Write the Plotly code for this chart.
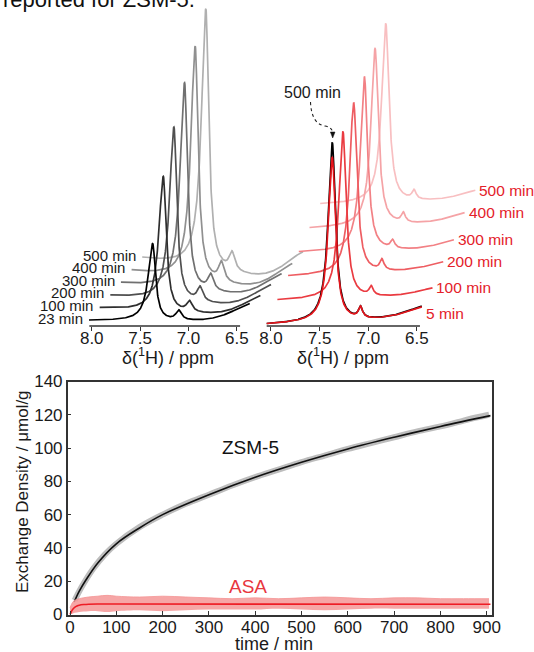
import numpy as np
import plotly.graph_objects as go

# ---------------- data ----------------
# Top: 1H NMR spectra (intensity in arbitrary units) -- peak parameters per spectrum
zsm_labels = ["23 min", "100 min", "200 min", "300 min", "400 min", "500 min"]
zsm_peak_height = [77, 132, 169, 201, 225, 250]
zsm_bump_height = [9.7, 10.5, 14.2, 15.6, 19.2, 18.1]
zsm_baseline_tilt = [0.3, 5.2, 7.75, 9.4, 13.6, 15.75]
zsm_tail_rise = [19.4, 23.8, 26.8, 28.2, 33.4, 36.8]

asa_labels = ["5 min", "100 min", "200 min", "300 min", "400 min", "500 min"]
asa_peak_height = [167, 169, 174, 176, 180, 181]
asa_bump_height = [11, 9, 10.5, 8, 9.5, 9]
asa_baseline_tilt = [-4.5, -3, -4.3, -2, -4, -3]
asa_tail_rise = [12, 9, 9, 11, 11, 11]

# ASA spectrum at 500 min overlaid on the 5 min one
asa500_overlay = dict(h=182, b=11, t=-4.5, r=13)

# peak positions (ppm) and widths
zsm_shape = dict(c=7.37, gL=0.055, gR=0.036, cb=7.10, w=0.035, cr=6.25, wr=0.35, x0=8.028, x1=6.366)
asa_shape = dict(c=7.37, gL=0.050, gR=0.040, cb=7.08, w=0.025, cr=6.30, wr=0.35, x0=8.044, x1=6.45)

ppm_ticks = [8.0, 7.5, 7.0, 6.5]
ppm_ticktext = ["8.0", "7.5", "7.0", "6.5"]

# Bottom: exchange density vs time
zsm_data_t = [10, 25, 50, 75, 100, 150, 200, 250, 300, 350, 400, 450, 500, 550,
              600, 650, 700, 750, 800, 850, 880, 905]
zsm_data_v = [8.5, 16.5, 27.5, 36, 42.5, 52.5, 60, 66.5, 72, 77.5, 82.5, 87, 91.5, 95.5,
              99.5, 103, 106.5, 110, 113, 116.5, 118.5, 120]
zsm_fit_t = [9, 20, 35, 60, 100, 150, 200, 300, 400, 500, 600, 700, 800, 908]
zsm_fit_v = [7.5, 14, 21, 31, 42.5, 52, 60, 72, 82.5, 91.5, 99.5, 106.5, 113, 119.5]

asa_data_t = [0, 5, 10, 20, 40, 60, 80, 100, 150, 200, 250, 300, 350, 400, 450,
              500, 550, 600, 650, 700, 750, 800, 850, 905]
asa_data_hi = [4, 7, 8.5, 9.5, 10.5, 11, 11.5, 11, 10.5, 11, 10.5, 10, 9.5, 10, 9.5,
               10, 10.5, 10, 9.5, 10, 10, 9.5, 9.5, 9.5]
asa_data_lo = [0, 0.5, 1, 1.5, 2, 2, 1.5, 2, 2.5, 2, 2.5, 3, 3, 3, 3.5,
               3, 2.5, 3, 3.5, 3.5, 3.5, 3.5, 3.5, 3.5]
asa_fit_t = [0, 3, 6, 10, 15, 20, 30, 40, 60, 100, 908]
asa_fit_v = [0, 1.8, 3.2, 4.3, 5.1, 5.6, 6.0, 6.2, 6.3, 6.3, 6.2]

time_ticks = [0, 100, 200, 300, 400, 500, 600, 700, 800, 900]
dens_ticks = [0, 20, 40, 60, 80, 100, 120, 140]

# ---------------- styling / layout constants ----------------
W, H = 534, 652
DX = 0.11          # horizontal stacking step (ppm)
DY_L, DY_R = 12.6, 24.0   # vertical stacking steps (a.u.)
FONT = "Liberation Sans, Arial, sans-serif"
gray_cols = ["#000000", "#2e2e2e", "#505050", "#707070", "#909090", "#b0b0b0"]
red_cols = ["#e5141b", "#ea3b41", "#ee5d62", "#f28185", "#f5a3a6", "#f8bfc1"]
LABEL_RED = "#e4212a"


def px2x(px):
    return px / W


def px2y(py):
    return 1 - py / H


def spectrum(x, h, b, t, r, p):
    d = x - p["c"]
    g = np.where(d > 0, p["gL"], p["gR"])
    shape = g ** 2 / (d ** 2 + g ** 2)
    bump = b * p["w"] ** 2 / ((x - p["cb"]) ** 2 + p["w"] ** 2)
    ramp = r * np.exp(-((x - p["cr"]) / p["wr"]) ** 2)
    tilt = -t * (p["x0"] - x)
    rest = bump + ramp + tilt
    # main amplitude so that the peak top sits h above the left end of the trace
    rest_c = b * p["w"] ** 2 / ((p["c"] - p["cb"]) ** 2 + p["w"] ** 2) - t * (p["x0"] - p["c"])
    s = (h - rest_c) * shape + rest
    return s - s[0]


fig = go.Figure()
annotations = []
shapes = []

# ---- top left: ZSM-5 spectra ----
xl = np.linspace(zsm_shape["x0"], zsm_shape["x1"], 900)
for k in reversed(range(6)):
    s = spectrum(xl, zsm_peak_height[k], zsm_bump_height[k], zsm_baseline_tilt[k],
                 zsm_tail_rise[k], zsm_shape)
    fig.add_trace(go.Scatter(x=xl - k * DX, y=s + k * DY_L, mode="lines",
                             line=dict(color=gray_cols[k], width=1.7),
                             xaxis="x", yaxis="y", showlegend=False, hoverinfo="skip"))
    annotations.append(dict(x=zsm_shape["x0"] - k * DX + 0.045, y=k * DY_L, xref="x", yref="y",
                            text=zsm_labels[k], showarrow=False, xanchor="right", yanchor="middle",
                            yshift=2, font=dict(family=FONT, size=15, color="#1a1a1a")))

# ---- top right: ASA spectra ----
xr = np.linspace(asa_shape["x0"], asa_shape["x1"], 900)
order = [5, 4, 3, 2, 1, "black", 0]
for k in order:
    if k == "black":
        s = spectrum(xr, asa500_overlay["h"], asa500_overlay["b"], asa500_overlay["t"],
                     asa500_overlay["r"], asa_shape)
        fig.add_trace(go.Scatter(x=xr, y=s, mode="lines", line=dict(color="#000000", width=1.7),
                                 xaxis="x2", yaxis="y2", showlegend=False, hoverinfo="skip"))
        continue
    s = spectrum(xr, asa_peak_height[k], asa_bump_height[k], asa_baseline_tilt[k],
                 asa_tail_rise[k], asa_shape)
    fig.add_trace(go.Scatter(x=xr - k * DX, y=s + k * DY_R, mode="lines",
                             line=dict(color=red_cols[k], width=1.7),
                             xaxis="x2", yaxis="y2", showlegend=False, hoverinfo="skip"))
    annotations.append(dict(x=asa_shape["x1"] - k * DX - 0.02, y=s[-1] + k * DY_R, xref="x2", yref="y2",
                            text=asa_labels[k], showarrow=False, xanchor="left", yanchor="middle",
                            yshift=-7 if k == 0 else 0,
                            font=dict(family=FONT, size=15.5, color=LABEL_RED)))

# "500 min" pointer in the ASA panel
annotations.append(dict(x=px2x(312), y=px2y(93), xref="paper", yref="paper", text="500 min",
                        xanchor="center", yanchor="middle",
                        showarrow=False, font=dict(family=FONT, size=16, color="#1a1a1a")))
p = lambda a, b: f"{px2x(a):.5f},{px2y(b):.5f}"
shapes.append(dict(type="path", xref="paper", yref="paper",
                   path=f"M {p(310.5, 102)} Q {p(311.5, 124)} {p(325, 126)} Q {p(332.5, 127.5)} {p(332.7, 133)}",
                   line=dict(color="#222", width=1.1, dash="dot")))
shapes.append(dict(type="path", xref="paper", yref="paper",
                   path=f"M {p(330.4, 132)} L {p(335.0, 132)} L {p(332.7, 138)} Z",
                   fillcolor="#111", line=dict(color="#111", width=0.5)))

# axis lines of the spectra panels
shapes.append(dict(type="line", xref="x", yref="paper", x0=8.025, x1=6.466, y0=0.5, y1=0.5,
                   line=dict(color="#333", width=1.3)))
shapes.append(dict(type="line", xref="x2", yref="paper", x0=8.044, x1=6.469, y0=0.5, y1=0.5,
                   line=dict(color="#333", width=1.3)))

# ppm titles
for cx in (168, 343):
    annotations.append(dict(x=px2x(cx), y=px2y(357), xref="paper", yref="paper",
                            xanchor="center", yanchor="middle",
                            text="δ(<sup>1</sup>H) / ppm", showarrow=False,
                            font=dict(family=FONT, size=18, color="#1a1a1a")))

# ---- bottom: exchange density ----
fig.add_trace(go.Scatter(x=zsm_data_t, y=zsm_data_v, mode="lines", line=dict(color="#bdbdbd", width=6, shape="spline"),
                         xaxis="x3", yaxis="y3", showlegend=False, hoverinfo="skip"))
fig.add_trace(go.Scatter(x=zsm_fit_t, y=zsm_fit_v, mode="lines", line=dict(color="#111111", width=1.6, shape="spline"),
                         xaxis="x3", yaxis="y3", showlegend=False, hoverinfo="skip"))
fig.add_trace(go.Scatter(x=asa_data_t, y=asa_data_lo, mode="lines", line=dict(color="rgba(0,0,0,0)", width=0, shape="spline"),
                         xaxis="x3", yaxis="y3", showlegend=False, hoverinfo="skip"))
fig.add_trace(go.Scatter(x=asa_data_t, y=asa_data_hi, mode="lines", fill="tonexty",
                         fillcolor="rgba(244,150,150,0.85)",
                         line=dict(color="rgba(244,150,150,0.85)", width=1, shape="spline"),
                         xaxis="x3", yaxis="y3", showlegend=False, hoverinfo="skip"))
fig.add_trace(go.Scatter(x=asa_fit_t, y=asa_fit_v, mode="lines", line=dict(color="#ee1c25", width=1.6, shape="spline"),
                         xaxis="x3", yaxis="y3", showlegend=False, hoverinfo="skip"))

annotations.append(dict(x=389, y=100.6, xref="x3", yref="y3", text="ZSM-5", showarrow=False,
                        xanchor="center", yanchor="middle",
                        font=dict(family=FONT, size=19, color="#111")))
annotations.append(dict(x=384, y=16.7, xref="x3", yref="y3", text="ASA", showarrow=False,
                        xanchor="center", yanchor="middle",
                        font=dict(family=FONT, size=19, color="#e8373e")))
annotations.append(dict(x=px2x(22), y=px2y(492), xref="paper", yref="paper", textangle=-90,
                        xanchor="center", yanchor="middle",
                        text="Exchange Density / μmol/g", showarrow=False,
                        font=dict(family=FONT, size=17, color="#1a1a1a")))

# texts at the very edges of the picture: text marks on a hidden pixel-unit overlay axis
fig.add_trace(go.Scatter(x=[274], y=[645], mode="text", text=["time / min"], textposition="middle center",
                         textfont=dict(family=FONT, size=18, color="#1a1a1a"), cliponaxis=False,
                         xaxis="x4", yaxis="y4", showlegend=False, hoverinfo="skip"))
fig.add_trace(go.Scatter(x=[3], y=[1.0], mode="text", text=["reported for ZSM-5."], textposition="middle right",
                         textfont=dict(family=FONT, size=22, color="#111"), cliponaxis=False,
                         xaxis="x4", yaxis="y4", showlegend=False, hoverinfo="skip"))

top_x = dict(showgrid=False, zeroline=False, showline=False, ticks="outside", ticklen=4, tickwidth=1,
             tickcolor="#333", tickvals=ppm_ticks, ticktext=ppm_ticktext, ticklabelstandoff=-7,
             tickfont=dict(family=FONT, size=17, color="#1a1a1a"))
hidden_y = dict(visible=False, showgrid=False, zeroline=False)

fig.update_layout(
    width=W, height=H, autosize=False, margin=dict(l=0, r=0, t=0, b=0, pad=0, autoexpand=False),
    paper_bgcolor="white", plot_bgcolor="rgba(0,0,0,0)",
    xaxis=dict(top_x, domain=[px2x(40), px2x(310)], range=[8.535, 5.743], anchor="y"),
    yaxis=dict(hidden_y, domain=[0.5, 1.0], range=[-6, 320], anchor="x"),
    xaxis2=dict(top_x, domain=[px2x(255), 1.0], range=[8.164, 5.297], anchor="y2"),
    yaxis2=dict(hidden_y, domain=[0.5, 1.0], range=[-2.5, 323.5], anchor="x2"),
    xaxis3=dict(domain=[px2x(67.7), px2x(492.3)], range=[-5, 912], anchor="y3",
                showgrid=False, zeroline=False, showline=True, mirror=True, linecolor="#333", linewidth=1.5,
                ticks="inside", ticklen=4, tickcolor="#333", tickvals=time_ticks, ticklabelstandoff=-4,
                tickfont=dict(family=FONT, size=17, color="#1a1a1a")),
    yaxis3=dict(domain=[px2y(614.5), px2y(381.5)], range=[0, 140], anchor="x3",
                showgrid=False, zeroline=False, showline=True, mirror=True, linecolor="#333", linewidth=1.5,
                ticks="inside", ticklen=4, tickcolor="#333", tickvals=dens_ticks,
                tickfont=dict(family=FONT, size=17, color="#1a1a1a")),
    xaxis4=dict(visible=False, domain=[0, 1], range=[0, W], anchor="y4"),
    yaxis4=dict(visible=False, domain=[0, 1], range=[H, 0], anchor="x4"),
    annotations=annotations, shapes=shapes,
)

# remove the browser's default 8px page margin so the figure fills the window exactly
fig.write_html("out.html", config={"displayModeBar": False, "responsive": False},
               post_script="document.body.style.margin='0px';")
